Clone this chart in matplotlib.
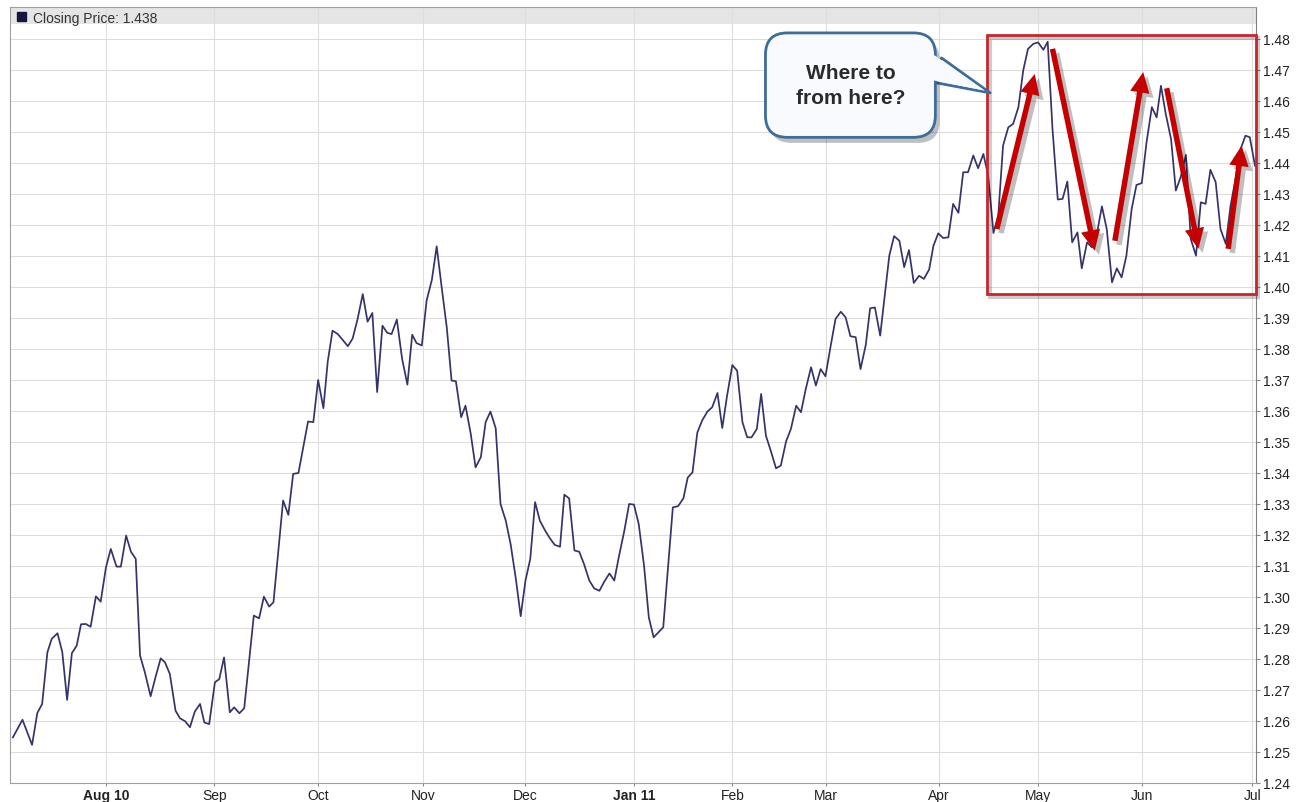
import numpy as np
import matplotlib.pyplot as plt
import matplotlib.patheffects as pe
from matplotlib.patches import Rectangle, Patch

plt.rcParams['font.family'] = ['Liberation Sans', 'DejaVu Sans']

# trading-day position (0 = early Jul 2010) and closing price
day = [0.6, 2.6, 4.6, 5.7, 6.7, 7.8, 8.7, 9.9, 10.9, 11.9,
       12.9, 13.9, 14.8, 15.8, 16.8, 17.9, 18.9, 20.0, 21.0, 22.2,
       23.1, 24.2, 25.2, 26.2, 27.1, 28.1, 29.3, 30.4, 31.4, 32.3,
       33.3, 34.5, 35.4, 36.5, 37.5, 38.5, 39.6, 40.5, 41.5, 42.7,
       43.6, 44.6, 45.8, 46.7, 47.8, 48.8, 50.8, 51.9, 52.9, 54.0,
       54.9, 56.9, 58.0, 59.0, 60.1, 62.1, 63.2, 64.2, 65.3, 66.2,
       67.2, 68.3, 70.4, 71.4, 72.4, 73.5, 74.5, 75.5, 76.5, 77.6,
       78.6, 79.5, 80.6, 81.7, 82.8, 83.8, 84.7, 85.8, 86.8, 87.9,
       88.9, 89.9, 91.0, 92.0, 92.9, 94.0, 94.9, 96.0, 97.0, 98.1,
       99.1, 100.1, 101.2, 102.2, 103.3, 104.3, 105.4, 106.4, 107.4, 108.4,
       109.4, 110.4, 111.5, 112.5, 113.5, 114.6, 115.5, 116.5, 117.6, 118.6,
       119.6, 120.7, 121.7, 122.8, 123.8, 124.9, 125.9, 126.9, 128.0, 129.0,
       130.0, 131.0, 132.1, 133.1, 134.1, 135.1, 136.1, 138.1, 139.2, 140.3,
       141.2, 142.2, 143.2, 144.2, 145.3, 146.3, 147.4, 148.4, 149.4, 150.5,
       151.5, 152.6, 153.6, 154.5, 155.6, 156.5, 157.5, 158.5, 159.6, 160.6,
       161.7, 162.7, 163.8, 164.8, 165.8, 166.9, 167.9, 168.9, 169.9, 171.0,
       172.0, 173.1, 174.1, 175.1, 176.2, 177.2, 178.3, 179.2, 180.2, 181.3,
       183.2, 184.2, 185.3, 186.3, 187.3, 188.3, 189.4, 190.4, 191.5, 192.4,
       193.4, 194.4, 195.5, 196.5, 197.6, 198.6, 199.6, 200.7, 201.7, 202.8,
       203.8, 204.9, 205.9, 206.9, 208.0, 209.0, 210.1, 211.1, 212.1, 213.2,
       214.2, 215.3, 216.2, 217.2, 218.3, 219.3, 220.3, 221.3, 222.4, 223.3,
       224.4, 225.4, 226.5, 227.5, 228.5, 229.6, 230.6, 231.6, 232.6, 233.7,
       234.7, 235.8, 236.8, 237.9, 238.9, 239.8, 240.8, 241.9, 242.9, 243.9,
       245.0, 246.0, 247.1, 248.1, 249.1, 250.1, 251.2, 252.2, 253.3, 254.3,
       255.4, 256.4, 257.4, 258.3, 259.4]

close = [1.2547, 1.2604, 1.2523, 1.2626, 1.2655, 1.2822, 1.2865, 1.2883, 1.2822, 1.2668,
         1.2819, 1.2843, 1.2912, 1.2913, 1.2904, 1.3002, 1.2985, 1.3096, 1.3155, 1.3098,
         1.3098, 1.3198, 1.3146, 1.3123, 1.2811, 1.2757, 1.2680, 1.2746, 1.2802, 1.2789,
         1.2752, 1.2633, 1.2609, 1.2599, 1.2580, 1.2630, 1.2655, 1.2595, 1.2590, 1.2725,
         1.2735, 1.2805, 1.2628, 1.2644, 1.2625, 1.2641, 1.2940, 1.2931, 1.3001, 1.2969,
         1.2983, 1.3311, 1.3265, 1.3397, 1.3400, 1.3566, 1.3564, 1.3700, 1.3609, 1.3759,
         1.3859, 1.3848, 1.3809, 1.3834, 1.3895, 1.3977, 1.3888, 1.3916, 1.3661, 1.3875,
         1.3852, 1.3848, 1.3895, 1.3768, 1.3685, 1.3846, 1.3819, 1.3811, 1.3956, 1.4023,
         1.4131, 1.4004, 1.3870, 1.3698, 1.3696, 1.3580, 1.3617, 1.3526, 1.3418, 1.3451,
         1.3564, 1.3598, 1.3544, 1.3300, 1.3246, 1.3171, 1.3058, 1.2938, 1.3053, 1.3123,
         1.3306, 1.3246, 1.3214, 1.3189, 1.3168, 1.3162, 1.3330, 1.3318, 1.3150, 1.3146,
         1.3106, 1.3053, 1.3028, 1.3020, 1.3049, 1.3076, 1.3053, 1.3133, 1.3214, 1.3300,
         1.3298, 1.3235, 1.3101, 1.2934, 1.2870, 1.2886, 1.2902, 1.3289, 1.3293, 1.3318,
         1.3385, 1.3402, 1.3530, 1.3569, 1.3598, 1.3612, 1.3658, 1.3545, 1.3649, 1.3748,
         1.3730, 1.3564, 1.3515, 1.3515, 1.3542, 1.3655, 1.3520, 1.3472, 1.3415, 1.3424,
         1.3502, 1.3542, 1.3617, 1.3596, 1.3671, 1.3741, 1.3682, 1.3735, 1.3712, 1.3811,
         1.3897, 1.3920, 1.3902, 1.3841, 1.3838, 1.3735, 1.3813, 1.3931, 1.3934, 1.3843,
         1.4101, 1.4164, 1.4149, 1.4064, 1.4119, 1.4013, 1.4036, 1.4026, 1.4056, 1.4133,
         1.4173, 1.4158, 1.4160, 1.4268, 1.4239, 1.4370, 1.4370, 1.4424, 1.4383, 1.4429,
         1.4359, 1.4174, 1.4230, 1.4456, 1.4515, 1.4526, 1.4580, 1.4698, 1.4768, 1.4784,
         1.4789, 1.4765, 1.4791, 1.4510, 1.4282, 1.4284, 1.4340, 1.4144, 1.4176, 1.4060,
         1.4144, 1.4128, 1.4176, 1.4260, 1.4187, 1.4015, 1.4060, 1.4031, 1.4101, 1.4252,
         1.4329, 1.4335, 1.4467, 1.4580, 1.4547, 1.4649, 1.4558, 1.4477, 1.4311, 1.4354,
         1.4426, 1.4155, 1.4101, 1.4273, 1.4268, 1.4378, 1.4338, 1.4187, 1.4139, 1.4262,
         1.4354, 1.4445, 1.4488, 1.4483, 1.4391]

month_pos = [20.0, 42.6, 64.2, 86.0, 107.4, 130.0, 150.5, 170.0, 193.5, 214.2, 235.8, 258.8]
month_lbl = ['Aug 10', 'Sep', 'Oct', 'Nov', 'Dec', 'Jan 11', 'Feb', 'Mar', 'Apr', 'May', 'Jun', 'Jul']
price_ticks = np.round(np.arange(1.24, 1.4801, 0.01), 2)

legend_lbl = 'Closing Price: 1.438'

# red trend arrows: (from day, from price, to day, to price)
arrows = [(205.6, 1.4187, 213.5, 1.4687),
          (217.2, 1.4768, 226.0, 1.4117),
          (230.2, 1.4149, 236.1, 1.4693),
          (241.0, 1.4641, 247.6, 1.4123),
          (253.8, 1.4123, 256.6, 1.4456)]

# highlight box (day range, price range)
box_x = (203.5, 259.5)
box_y = (1.3977, 1.4813)

callout_txt = 'Where to\nfrom here?'
callout_at = (175.1, 1.4651)
callout_tip = (204.2, 1.4626)

fig = plt.figure(figsize=(12.97, 8.03), dpi=100)
ax = fig.add_axes([9.5 / 1297, 19 / 803, (1256 - 9.5) / 1297, 776 / 803])

ax.plot(day, close, color='#34346a', lw=1.25, zorder=3)

ax.set_xlim(-0.1, 259.6)
ax.set_ylim(1.24, 1.4903)

ax.set_xticks(month_pos)
ax.set_xticklabels(month_lbl)
for t in ax.get_xticklabels():
    if t.get_text() in ('Aug 10', 'Jan 11'):
        t.set_fontweight('bold')
ax.set_yticks(price_ticks)
ax.set_yticklabels([f'{v:.2f}' for v in price_ticks])
ax.yaxis.tick_right()

ax.grid(True, color='#dddddd', lw=0.8)
ax.set_axisbelow(True)
ax.tick_params(axis='both', labelsize=10, labelcolor='#222222', color='#888888', width=0.8)
ax.tick_params(axis='x', length=2, pad=1.5)
ax.tick_params(axis='y', length=3, pad=2)

for s in ['left', 'bottom', 'top']:
    ax.spines[s].set_color('#a0a0a0')
ax.spines['right'].set_color('#808080')

# grey title band at the top
band_h = 17 / 776
ax.add_patch(Rectangle((0, 1 - band_h), 1, band_h, transform=ax.transAxes,
                       fc='#e5e5e5', ec='none', zorder=0.4))

ax.legend(handles=[Patch(fc='#15153d', ec='#15153d')], labels=[legend_lbl],
          loc='upper left', bbox_to_anchor=(0.004, 0.999), frameon=False,
          fontsize=10, labelcolor='#333333', handlelength=0.65, handleheight=0.65,
          handletextpad=0.45, borderpad=0.2, borderaxespad=0)

shadow = [pe.SimplePatchShadow(offset=(3, -3), shadow_rgbFace='k', alpha=0.25), pe.Normal()]
line_shadow = [pe.SimpleLineShadow(offset=(2, -2), shadow_color='k', alpha=0.2, linewidth=3),
               pe.Normal()]

ax.add_patch(Rectangle((box_x[0], box_y[0]), box_x[1] - box_x[0], box_y[1] - box_y[0],
                       fill=False, ec='#c3282e', lw=2, zorder=4, clip_on=False,
                       path_effects=line_shadow))

for x0, y0, x1, y1 in arrows:
    ax.annotate('', xy=(x1, y1), xytext=(x0, y0), zorder=5,
                arrowprops=dict(arrowstyle='simple,head_length=1.05,head_width=1.0,tail_width=0.28',
                                fc='#c40000', ec='none', mutation_scale=14,
                                shrinkA=0, shrinkB=0, path_effects=shadow))

# speech bubble: outline layer (border + tail outline), text hidden
bubble = ax.annotate(callout_txt, xy=callout_tip, xytext=callout_at, ha='center', va='center',
                     fontsize=15, fontweight='bold', color='none', linespacing=1.4, zorder=6,
                     bbox=dict(boxstyle='round,pad=1.45,rounding_size=1.05',
                               fc='#f8fafd', ec='#3d6d9b', lw=2),
                     arrowprops=dict(arrowstyle='wedge,tail_width=1.25,shrink_factor=0.5',
                                     fc='#f8fafd', ec='#3d6d9b', lw=2,
                                     relpos=(1.0, 1.15), shrinkA=0, shrinkB=0))
bubble.get_bbox_patch().set_path_effects(
    [pe.SimplePatchShadow(offset=(3, -4), shadow_rgbFace='k', alpha=0.25), pe.Normal()])
# fill layer on top: hides the border where the tail joins, and carries the text
ax.annotate(callout_txt, xy=callout_tip, xytext=callout_at, ha='center', va='center',
            fontsize=15, fontweight='bold', color='#2a2a2a', linespacing=1.4, zorder=7,
            bbox=dict(boxstyle='round,pad=1.35,rounding_size=0.95', fc='#f8fafd', ec='none'),
            arrowprops=dict(arrowstyle='wedge,tail_width=1.75,shrink_factor=0.5',
                            fc='#f8fafd', ec='none', relpos=(1.0, 1.15),
                            patchA=None, shrinkA=0, shrinkB=4))

fig.savefig('out.png', dpi=100)
